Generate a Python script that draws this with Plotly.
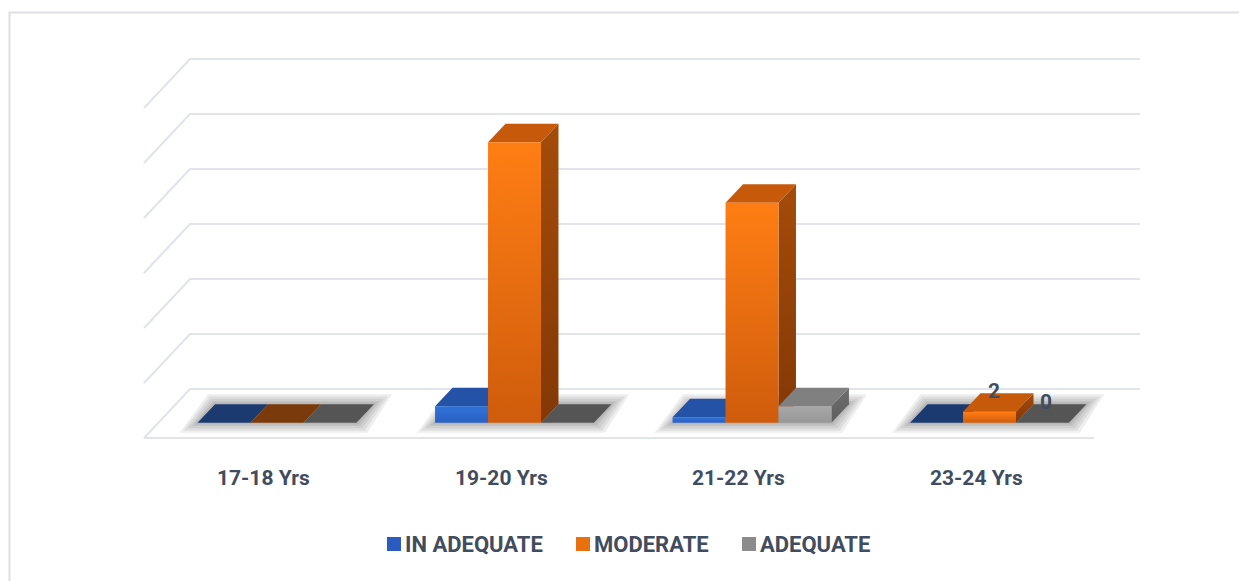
import plotly.graph_objects as go

# ---- data -------------------------------------------------------------
categories = ["17-18 Yrs", "19-20 Yrs", "21-22 Yrs", "23-24 Yrs"]
series_names = ["IN ADEQUATE", "MODERATE", "ADEQUATE"]
in_adequate = [0, 3, 1, 0]
moderate = [0, 51, 40, 2]
adequate = [0, 0, 3, 0]
gridline_values = [0, 10, 20, 30, 40, 50, 60]
# (category, series) pairs that carry a value label
labelled_points = [("23-24 Yrs", "MODERATE"), ("23-24 Yrs", "ADEQUATE")]

series_values = [in_adequate, moderate, adequate]

# ---- styling ----------------------------------------------------------
styles = {
    "IN ADEQUATE": dict(front=("#2f72d8", "#2a60c2"), side=("#1f4a96", "#1a3f82"),
                        top="#2452a6", flat="#1b3a6f", legend="#2a5cbf"),
    "MODERATE": dict(front=("#ff7e14", "#cf5c0c"), side=("#a44c0a", "#833806"),
                     top="#c75a0a", flat="#7a3a0b", legend="#e8700f"),
    "ADEQUATE": dict(front=("#a8a8a8", "#979797"), side=("#6e6e6e", "#5e5e5e"),
                     top="#808080", flat="#555555", legend="#8c8c8c"),
}
TEXT_COLOR = "#414d5e"
GRID_COLOR = "#e1e4eb"
FONT = "Roboto, Arial, sans-serif"

# ---- oblique 3-D projection (in axis units) ---------------------------
PX_PER_CAT = 237.5          # horizontal size of one category
PX_PER_UNIT = 5.5           # vertical size of one value unit
DEPTH_DX = -46 / PX_PER_CAT  # shift of the front plane relative to back wall
DEPTH_DY = -49 / PX_PER_UNIT
BAR_W = 0.223
BACK_D, FRONT_D = 0.31, 0.69

W_FIG, H_FIG = 1239, 581
X_LEFT_PX, FLOOR_PX = 190, 389
x_range = [-0.5 - X_LEFT_PX / PX_PER_CAT, -0.5 + (W_FIG - X_LEFT_PX) / PX_PER_CAT]
y_range = [(FLOOR_PX - H_FIG) / PX_PER_UNIT, FLOOR_PX / PX_PER_UNIT]


def proj(x, v, d):
    """Point at category-x, value v and depth d (0 = back wall, 1 = front)."""
    return x + d * DEPTH_DX, v + d * DEPTH_DY


def poly(points, color=None, gradient=None, opacity=1.0):
    xs = [p[0] for p in points] + [points[0][0]]
    ys = [p[1] for p in points] + [points[0][1]]
    kw = dict(x=xs, y=ys, mode="lines", fill="toself", line=dict(width=0),
              hoverinfo="skip", showlegend=False, opacity=opacity)
    if gradient:
        kw["fillgradient"] = dict(type="vertical",
                                  colorscale=[[0, gradient[1]], [1, gradient[0]]])
        kw["fillcolor"] = gradient[0]
    else:
        kw["fillcolor"] = color
    return go.Scatter(**kw)


fig = go.Figure()

# walls: back-wall gridlines continued along the left side wall
gx, gy = [], []
x_l, x_r = -0.5, len(categories) - 0.5
for v in gridline_values:
    fx, fy = proj(x_l, v, 1)
    gx += [fx, x_l, x_r, None]
    gy += [fy, v, v, None]
# front edge of the floor
fx0, fy0 = proj(x_l, 0, 1)
fx1, fy1 = proj(x_r, 0, 1)
gx += [fx0, fx1, None]
gy += [fy0, fy1, None]
fig.add_trace(go.Scatter(x=gx, y=gy, mode="lines", hoverinfo="skip",
                         line=dict(color=GRID_COLOR, width=2.2), showlegend=False))

# soft floor shadows under each cluster
n_series = len(series_names)
for i, _ in enumerate(categories):
    gl = i - n_series * BAR_W / 2
    gr = i + n_series * BAR_W / 2
    for e in (18, 14, 10, 6, 3):
        ex, ey = e / PX_PER_CAT, e / PX_PER_UNIT * 0.55
        pts = [proj(gl - ex, -ey, FRONT_D), proj(gr + ex * 0.6, -ey, FRONT_D),
               proj(gr + ex, ey, BACK_D), proj(gl - ex * 0.4, ey, BACK_D)]
        fig.add_trace(poly(pts, color="rgba(90,90,90,0.10)"))

# bars, drawn left to right so neighbours hide inner side faces
for i, cat in enumerate(categories):
    for s, name in enumerate(series_names):
        v = series_values[s][i]
        st = styles[name]
        xl = i - n_series * BAR_W / 2 + s * BAR_W
        xr = xl + BAR_W
        if v == 0:
            pts = [proj(xl, 0, FRONT_D), proj(xr, 0, FRONT_D),
                   proj(xr, 0, BACK_D), proj(xl, 0, BACK_D)]
            fig.add_trace(poly(pts, color=st["flat"]))
            continue
        side = [proj(xr, 0, FRONT_D), proj(xr, 0, BACK_D),
                proj(xr, v, BACK_D), proj(xr, v, FRONT_D)]
        top = [proj(xl, v, FRONT_D), proj(xr, v, FRONT_D),
               proj(xr, v, BACK_D), proj(xl, v, BACK_D)]
        front = [proj(xl, 0, FRONT_D), proj(xr, 0, FRONT_D),
                 proj(xr, v, FRONT_D), proj(xl, v, FRONT_D)]
        fig.add_trace(poly(side, gradient=st["side"]))
        fig.add_trace(poly(top, color=st["top"]))
        fig.add_trace(poly(front, gradient=st["front"]))

annotations = []
# value labels
for cat, name in labelled_points:
    i = categories.index(cat)
    s = series_names.index(name)
    v = series_values[s][i]
    xc = i - n_series * BAR_W / 2 + (s + 0.5) * BAR_W
    lx, ly = proj(xc, v, 0.5)
    annotations.append(dict(x=lx - 0.02, y=ly, text=str(v), showarrow=False,
                            yshift=12, font=dict(family=FONT, size=21,
                                                 color=TEXT_COLOR, weight="bold")))

# category labels along the front edge of the floor
for i, cat in enumerate(categories):
    lx, ly = proj(i, 0, 1)
    annotations.append(dict(x=lx + 0.005, y=ly, text=cat, showarrow=False, yshift=-40,
                            font=dict(family=FONT, size=21, color=TEXT_COLOR,
                                      weight="bold")))

# legend row
shapes = []
legend_x = [387, 576, 742]
legend_y = 544
for name, lxp in zip(series_names, legend_x):
    shapes.append(dict(type="rect", xref="paper", yref="paper",
                       x0=lxp / W_FIG, x1=(lxp + 14) / W_FIG,
                       y0=1 - (legend_y + 7) / H_FIG, y1=1 - (legend_y - 7) / H_FIG,
                       fillcolor=styles[name]["legend"], line=dict(width=0)))
    annotations.append(dict(xref="paper", yref="paper", x=(lxp + 16) / W_FIG,
                            y=1 - legend_y / H_FIG, xanchor="left", yanchor="middle",
                            text=name, showarrow=False,
                            font=dict(family=FONT, size=22, color=TEXT_COLOR,
                                      weight="bold")))

# chart frame
shapes.append(dict(type="rect", xref="paper", yref="paper", x0=9.5 / W_FIG, x1=1.05,
                   y0=-0.05, y1=1 - 12.5 / H_FIG, line=dict(color="#dcdfe6", width=2),
                   fillcolor="rgba(0,0,0,0)", layer="below"))

fig.update_layout(
    width=W_FIG, height=H_FIG,
    margin=dict(l=0, r=0, t=0, b=0),
    paper_bgcolor="white", plot_bgcolor="white",
    xaxis=dict(range=x_range, visible=False, fixedrange=True),
    yaxis=dict(range=y_range, visible=False, fixedrange=True),
    annotations=annotations, shapes=shapes, showlegend=False,
)

fig.write_html("out.html")
